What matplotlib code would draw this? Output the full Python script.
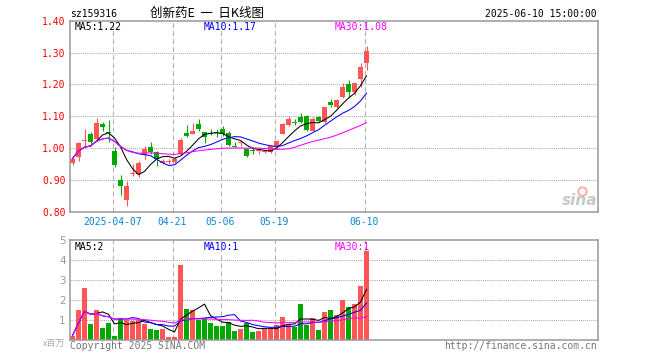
import matplotlib
matplotlib.use("Agg")
import matplotlib.pyplot as plt
import numpy as np
import pandas as pd

# daily K data (price in CNY, volume in millions)
opens = [0.952, 0.971, 1.021, 1.044, 1.028, 1.076, 1.050, 0.990, 0.901, 0.836,
         0.919, 0.917, 0.979, 1.004, 0.989, 0.953, 0.957, 0.956, 0.981, 1.048,
         1.045, 1.077, 1.049, 1.048, 1.051, 1.059, 1.047, 1.006, 1.015, 0.997,
         0.995, 0.992, 0.988, 0.987, 1.005, 1.045, 1.071, 1.082, 1.096, 1.102,
         1.055, 1.096, 1.082, 1.145, 1.130, 1.161, 1.202, 1.177, 1.216, 1.266]
highs = [0.968, 1.018, 1.059, 1.050, 1.094, 1.083, 1.089, 1.002, 0.915, 0.896,
         0.950, 0.958, 1.005, 1.020, 0.990, 0.967, 0.966, 0.972, 1.033, 1.073,
         1.080, 1.092, 1.050, 1.060, 1.060, 1.068, 1.052, 1.019, 1.024, 1.000,
         1.002, 0.999, 0.992, 1.005, 1.024, 1.078, 1.101, 1.091, 1.109, 1.104,
         1.099, 1.101, 1.130, 1.153, 1.153, 1.205, 1.214, 1.205, 1.268, 1.320]
lows = [0.948, 0.960, 1.007, 1.005, 1.026, 1.055, 1.018, 0.941, 0.852, 0.818,
        0.913, 0.909, 0.966, 0.982, 0.944, 0.950, 0.951, 0.953, 0.979, 1.034,
        1.043, 1.055, 1.016, 1.041, 1.036, 1.039, 1.005, 1.002, 1.005, 0.972,
        0.982, 0.981, 0.984, 0.984, 1.000, 1.043, 1.068, 1.073, 1.078, 1.055,
        1.052, 1.082, 1.080, 1.130, 1.127, 1.156, 1.159, 1.167, 1.191, 1.245]
closes = [0.967, 1.015, 1.026, 1.019, 1.080, 1.065, 1.048, 0.946, 0.880, 0.882,
          0.921, 0.953, 0.997, 0.988, 0.966, 0.960, 0.958, 0.967, 1.024, 1.039,
          1.054, 1.060, 1.036, 1.043, 1.046, 1.044, 1.008, 1.004, 1.016, 0.976,
          0.990, 0.993, 0.989, 1.005, 1.021, 1.074, 1.090, 1.080, 1.081, 1.057,
          1.092, 1.086, 1.129, 1.135, 1.150, 1.193, 1.177, 1.205, 1.255, 1.304]
volumes = [0.2, 1.47, 2.6, 0.8, 1.47, 0.6, 0.85, 0.2, 1.1, 1.0,
           0.92, 1.0, 0.8, 0.55, 0.5, 0.55, 0.15, 0.15, 3.75, 1.55,
           1.5, 1.0, 1.1, 0.85, 0.7, 0.7, 0.9, 0.45, 0.55, 0.85,
           0.4, 0.45, 0.55, 0.55, 0.75, 1.15, 0.8, 0.65, 1.8, 0.75,
           1.1, 0.5, 1.4, 1.5, 1.25, 2.0, 1.65, 1.8, 2.7, 4.45]

holidays = ["2025-04-04", "2025-05-01", "2025-05-02", "2025-05-05", "2025-06-02"]
label_dates = ["2025-04-07", "2025-04-21", "2025-05-06", "2025-05-19", "2025-06-10"]
price_ticks = [0.80, 0.90, 1.00, 1.10, 1.20, 1.30, 1.40]
vol_ticks = [1, 2, 3, 4, 5]
ma_windows = [5, 10, 30]
ma_colors = ["black", "#0000ff", "#ff00ff"]
price_ma_labels = ["MA5:1.22", "MA10:1.17", "MA30:1.08"]
vol_ma_labels = ["MA5:2", "MA10:1", "MA30:1"]

RED = "#ff5555"
GREEN = "#00a800"
GRID = "#aaaaaa"
MONO = "DejaVu Sans Mono"

dates = pd.bdate_range("2025-03-26", "2025-06-10")
dates = dates[~dates.isin(pd.to_datetime(holidays))]
n = len(closes)
x = np.arange(n)
o = np.array(opens); c = np.array(closes)
h = np.array(highs); l = np.array(lows)
v = np.array(volumes)
up = c >= o
cols = np.where(up, RED, GREEN)

W, H = 660, 360
def fx(px): return px / W
def fy(py): return 1 - py / H

fig = plt.figure(figsize=(6.6, 3.6), dpi=100)
ax = fig.add_axes([fx(70), fy(211.7), (597.5 - 70) / W, (211.7 - 20.7) / H])
axv = fig.add_axes([fx(70), fy(339.5), (597.5 - 70) / W, (339.5 - 240) / H])

xlim = (-0.42, 87.5)
label_idx = [int(np.where(dates == pd.Timestamp(d))[0][0]) for d in label_dates]

for a in (ax, axv):
    a.set_xlim(*xlim)
    a.set_xticks([])
    for s in a.spines.values():
        s.set_color("#999999")
        s.set_linewidth(1.1)
    for i in label_idx:
        a.axvline(i - 0.33, color="#b0b0b0", lw=0.75, ls=(0, (4.8, 2.9)), zorder=1)

# price panel
ax.set_ylim(0.80, 1.40)
ax.set_yticks(price_ticks)
ax.set_yticklabels([f"{t:.2f}" for t in price_ticks], fontfamily=MONO)
ax.tick_params(axis="y", length=0, pad=3, labelcolor="red", labelsize=7)
for t in price_ticks[1:-1]:
    ax.axhline(t, color=GRID, lw=0.75, ls=(0, (1, 1)), zorder=1)

ax.vlines(x, l, h, colors=cols, lw=0.8, zorder=2)
body = np.maximum(np.abs(c - o), 0.003)
ax.bar(x, body, bottom=np.minimum(o, c), width=0.75, color=cols, lw=0, zorder=2)

close_s = pd.Series(c)
for w, col in zip(ma_windows, ma_colors):
    ax.plot(x, close_s.rolling(w, min_periods=1).mean(), color=col, lw=0.75, zorder=3)

# volume panel
axv.set_ylim(0, 5)
axv.set_yticks(vol_ticks)
axv.set_yticklabels([str(t) for t in vol_ticks])
axv.tick_params(axis="y", length=0, pad=3, labelcolor="#999999", labelsize=7.5)
for t in vol_ticks[:-1]:
    axv.axhline(t, color=GRID, lw=0.75, ls=(0, (1, 1)), zorder=1)
axv.bar(x, v, width=0.75, color=cols, lw=0, zorder=2)
vol_s = pd.Series(v)
for w, col in zip(ma_windows, ma_colors):
    axv.plot(x, vol_s.rolling(w, min_periods=1).mean(), color=col, lw=0.75, zorder=3)

# texts
fig.text(fx(70), fy(17), "sz159316", fontsize=7, family=MONO, va="baseline")
fig.text(fx(150), fy(17), "创新药E  一  日K线图", fontsize=9,
         family=["Noto Sans CJK SC", "DejaVu Sans"], va="baseline")
fig.text(fx(597), fy(17), "2025-06-10 15:00:00", fontsize=7, family=MONO,
         va="baseline", ha="right")

for lab, col, px in zip(price_ma_labels, ma_colors, [75, 204, 335]):
    fig.text(fx(px), fy(30), lab, fontsize=7, family=MONO, color=col, va="baseline")
for lab, col, px in zip(vol_ma_labels, ma_colors, [75, 204, 335]):
    fig.text(fx(px), fy(250), lab, fontsize=7, family=MONO, color=col, va="baseline")

for k, i in enumerate(label_idx):
    txt = label_dates[k] if k == 0 else label_dates[k][5:]
    fig.text(fx(72.5 + 6 * i - 2), fy(225), txt, fontsize=7, family=MONO,
             color="#0a85d8", ha="center", va="baseline")

fig.text(fx(65), fy(346), "x百万", fontsize=6.5, color="#aaaaaa", ha="right",
         va="baseline", family=["Noto Sans CJK SC", "DejaVu Sans"])
fig.text(fx(70), fy(349), "Copyright 2025 SINA.COM", fontsize=7, family=MONO,
         color="#777777", va="baseline")
fig.text(fx(597), fy(349), "http://finance.sina.com.cn", fontsize=7, family=MONO,
         color="#777777", va="baseline", ha="right")

# sina watermark: eye logo as a marker, word as text
fig.text(fx(597), fy(205), "sina", fontsize=11, fontweight="bold", style="italic",
         color="#bbbbbb", ha="right", va="baseline", alpha=0.8)
ax.plot([fx(582)], [fy(191)], marker="o", ms=6, mfc="none", mec="#f4a0a0", mew=1.5,
        transform=fig.transFigure, clip_on=False, alpha=0.8)

fig.savefig("out.png", dpi=100)
